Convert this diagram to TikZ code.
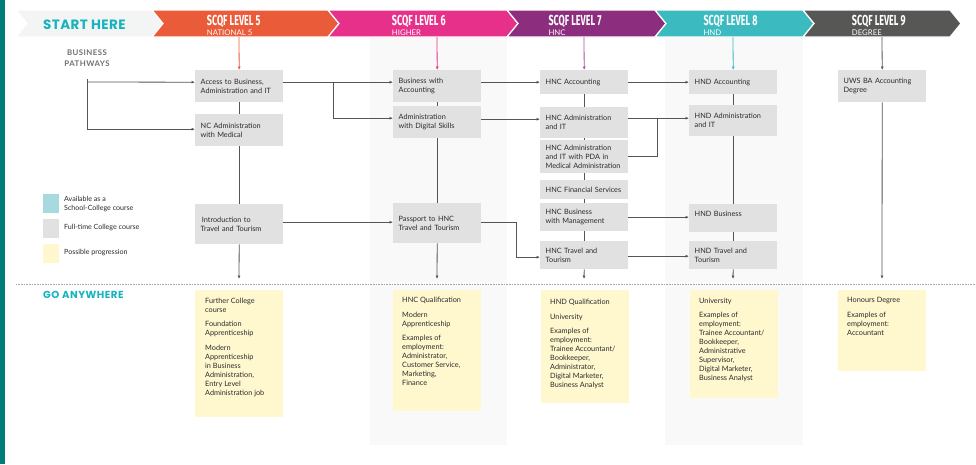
\documentclass[tikz,border=0pt]{standalone}
\usepackage{fontspec}
\setmainfont{Lato}
\newfontfamily\headfont[FakeStretch=0.62]{Fira Sans}
\newfontfamily\titlefont[LetterSpace=3]{Poppins}
\newfontfamily\gofont[LetterSpace=5]{Poppins}
\newfontfamily\pathfont[LetterSpace=6]{Lato}
\usetikzlibrary{arrows.meta,calc}
\definecolor{tealbar}{HTML}{007C7A}
\definecolor{startfill}{HTML}{F3F4F4}
\definecolor{starttxt}{HTML}{17B3BF}
\definecolor{cfive}{HTML}{EA5B3A}
\definecolor{csix}{HTML}{E6308A}
\definecolor{cseven}{HTML}{8C2E7D}
\definecolor{ceight}{HTML}{3BBAC0}
\definecolor{cnine}{HTML}{575756}
\definecolor{boxgray}{HTML}{E1E1E1}
\definecolor{yel}{HTML}{FFF8CF}
\definecolor{legteal}{HTML}{A6DADF}
\definecolor{panel}{HTML}{F9F9F9}
\definecolor{linegray}{HTML}{555555}
\definecolor{txt}{HTML}{2B2B2B}
\definecolor{pathgray}{HTML}{707070}
\newcommand\mychev[3]{%
  \filldraw[fill=#1, draw=white, line width=1.2pt, line join=miter]
    (#2,10) -- (#3,10) -- (#3+11,23.5) -- (#3,37) -- (#2,37) -- (#2+11,23.5) -- cycle;}
\begin{document}
\begin{tikzpicture}[x=1pt,y=-1pt,
  ln/.style={draw=linegray, line width=0.8pt},
  conn/.style={ln, -{Latex[length=3.5pt,width=3pt]}},
  gbox/.style={fill=boxgray, anchor=north west, text width=77pt, inner xsep=5.5pt, inner ysep=0pt, align=left, font=\fontsize{7.3}{9}\selectfont, text=txt},
  ybox/.style={fill=yel, anchor=north west, minimum width=88pt, inner sep=0pt},
  ytext/.style={anchor=north west, inner sep=0pt, align=left, font=\fontsize{7.3}{9}\selectfont, text=txt},
  head/.style={anchor=base west, inner sep=0pt, text=white, font=\headfont\bfseries\fontsize{14.5}{14.5}\selectfont},
  sub/.style={anchor=base west, inner sep=0pt, text=white, font=\fontsize{7.8}{8}\selectfont},
  legtext/.style={anchor=west, inner sep=0pt, align=left, font=\fontsize{7.1}{9}\selectfont, text=txt},
  legsq/.style={anchor=north west, minimum width=16pt, minimum height=19pt, inner sep=0pt},
]
\useasboundingbox (0,0) rectangle (976,464);
\fill[white] (0,0) rectangle (976,464);
\fill[tealbar] (0,0) rectangle (5,464);

% column panels
\fill[panel] (370,37) rectangle (507,445);
\fill[panel] (665,37) rectangle (803,445);

% banner
\mychev{startfill}{16}{152}
\mychev{cfive}{152}{328}
\mychev{csix}{328}{507}
\mychev{cseven}{507}{655}
\mychev{ceight}{655}{803}
\mychev{cnine}{803}{950}

\node[anchor=base west, inner sep=0pt, text=starttxt, font=\titlefont\bfseries\fontsize{13.5}{14}\selectfont] (start) at (43,29.3) {START HERE};
\node[head] (h5) at (206.7,25) {SCQF LEVEL 5};
\node[sub] (s5) at (206.7,35) {NATIONAL 5};
\node[head] (h6) at (391.7,25) {SCQF LEVEL 6};
\node[sub] (s6) at (391.7,35) {HIGHER};
\node[head] (h7) at (548.3,25) {SCQF LEVEL 7};
\node[sub] (s7) at (548.3,35) {HNC};
\node[head] (h8) at (703.3,25) {SCQF LEVEL 8};
\node[sub] (s8) at (703.3,35) {HND};
\node[head] (h9) at (851.7,25) {SCQF LEVEL 9};
\node[sub] (s9) at (851.7,35) {DEGREE};

% business pathways
\node[anchor=base, inner sep=0pt, text=pathgray, font=\pathfont\bfseries\fontsize{7.8}{8}\selectfont] (bp1) at (87,55.7) {BUSINESS};
\node[anchor=base, inner sep=0pt, text=pathgray, font=\pathfont\bfseries\fontsize{7.8}{8}\selectfont] (bp2) at (87,66.7) {PATHWAYS};

% legend
\node[legsq, fill=legteal] (lg1) at (43,194) {};
\node[legsq, fill=boxgray] (lg2) at (43,219) {};
\node[legsq, fill=yel] (lg3) at (43,244) {};
\node[legtext] (lt1) at (64,204) {Available as a\\School-College course};
\node[legtext] (lt2) at (64,227.5) {Full-time College course};
\node[legtext] (lt3) at (64,252.5) {Possible progression};

% level 5 boxes
\node[gbox, minimum height=32pt] (access) at (195,70) {Access to Business,\\\mbox{Administration and IT}};
\node[gbox, minimum height=32pt] (nc) at (195,114) {NC Administration\\with Medical};
\node[gbox, minimum height=40pt] (intro) at (195,204) {\,Introduction to\\Travel and Tourism};
% level 6
\node[gbox, minimum height=32pt] (bwa) at (393,70) {Business with\\Accounting};
\node[gbox, minimum height=32pt] (ads) at (393,106) {Administration\\with Digital Skills};
\node[gbox, minimum height=40pt] (pass) at (393,203) {Passport to HNC\\Travel and Tourism};
% level 7
\node[gbox, minimum height=24pt] (hncacc) at (540,70) {HNC Accounting};
\node[gbox, minimum height=31pt] (hncadm) at (540,107) {HNC Administration\\and IT};
\node[gbox, minimum height=33pt] (pda) at (540,140) {HNC Administration\\and IT with PDA in\\\mbox{Medical Administration}};
\node[gbox, minimum height=19pt] (fin) at (540,180) {\mbox{HNC Financial Services}};
\node[gbox, minimum height=28pt] (hncbus) at (540,203) {HNC Business\\with Management};
\node[gbox, minimum height=28pt] (hnctrav) at (540,241) {HNC Travel and\\Tourism};
% level 8
\node[gbox, minimum height=24pt] (hndacc) at (689,70) {HND Accounting};
\node[gbox, minimum height=31pt] (hndadm) at (689,105) {\mbox{HND Administration}\\and IT};
\node[gbox, minimum height=28pt] (hndbus) at (689,204) {HND Business\\\mbox{}};
\node[gbox, minimum height=28pt] (hndtrav) at (689,241) {HND Travel and\\Tourism};
% level 9
\node[gbox, minimum height=32pt] (uws) at (838,70) {UWS BA Accounting\\Degree};

% banner arrows
\coordinate (b5) at (239,37);
\coordinate (b6) at (437,37);
\coordinate (b7) at (584,37);
\coordinate (b8) at (733,37);
\coordinate (b9) at (882,37);
\draw[conn, draw=cfive, color=cfive] (b5) -- (access.north);
\draw[conn, draw=csix, color=csix] (b6) -- (bwa.north);
\draw[conn, draw=cseven!80!white, color=cseven!80!white] (b7) -- (hncacc.north);
\draw[conn, draw=ceight, color=ceight] (b8) -- (hndacc.north);
\draw[conn, draw=cnine, color=cnine] (b9) -- (uws.north);

% column ends
\coordinate (e5) at (239,279);
\coordinate (e6) at (437,279);
\coordinate (e7) at (584,279);
\coordinate (e8) at (733,279);
\coordinate (e9) at (882,279);

% vertical lines
\draw[ln] (access.south) -- (nc.north);
\draw[ln] (nc.south) -- (intro.north);
\draw[conn] (intro.south) -- (e5);
\draw[ln] (bwa.south) -- (ads.north);
\draw[ln] (ads.south) -- (pass.north);
\draw[conn] (pass.south) -- (e6);
\draw[ln] (hncacc.south) -- (hncadm.north);
\draw[ln] (hncadm.south) -- (pda.north);
\draw[ln] (pda.south) -- (fin.north);
\draw[ln] (fin.south) -- (hncbus.north);
\draw[ln] (hncbus.south) -- (hnctrav.north);
\draw[conn] (hnctrav.south) -- (e7);
\draw[ln] (hndacc.south) -- (hndadm.north);
\draw[ln] (hndadm.south) -- (hndbus.north);
\draw[ln] (hndbus.south) -- (hndtrav.north);
\draw[conn] (hndtrav.south) -- (e8);
\draw[conn] (uws.south) -- (e9);

% left bracket
\coordinate (lb) at (87,79);
\coordinate (lbm) at (87,82);
\draw[ln] (lb) -- (lbm);
\draw[conn] (lb) |- ([yshift=1pt]nc.west);
\draw[conn] (lbm) -- ([yshift=4pt]access.west);

% horizontal connectors
\coordinate (br) at (333,82);
\draw[conn] ([yshift=4pt]access.east) -- ([yshift=4pt]bwa.west);
\draw[conn] (br) |- ([yshift=4pt]ads.west);
\draw[conn] ([yshift=2pt]intro.east) -- ([yshift=1pt]pass.west);
\draw[conn] ([yshift=4pt]bwa.east) -- (hncacc.west);
\draw[conn] ([yshift=3pt]ads.east) -- ([yshift=3.5pt]hncadm.west);
\draw[conn] ([yshift=1pt]pass.east) -- ++(35,0) |- ([yshift=-2pt]hnctrav.west);
\draw[conn] (hncacc.east) -- (hndacc.west);
\draw[conn] ([yshift=4.5pt]hncadm.east) -- ([yshift=2.5pt]hndadm.west);
\draw[ln] ([yshift=0.5pt]pda.east) -| ($(hncadm.east)+(29,-4.5)$);
\draw[conn] (hncbus.east) -- ([yshift=1pt]hndbus.west);
\draw[conn] ([yshift=-1pt]hnctrav.east) -- ([yshift=-1pt]hndtrav.west);

% dotted separator
\coordinate (dl) at (16,284);
\coordinate (dr) at (976,284);
\draw[draw=black!35, line width=0.7pt, dash pattern=on 0.8pt off 0.8pt] (dl) -- (dr);

\node[anchor=base west, inner sep=0pt, text=starttxt, font=\gofont\bfseries\fontsize{10.2}{11}\selectfont] (go) at (43,298.3) {GO ANYWHERE};

% yellow boxes
\node[ybox, minimum height=127pt] (y5) at (195,290) {};
\node[ybox, minimum height=121pt] (y6) at (393,290) {};
\node[ybox, minimum height=113pt] (y7) at (541,290) {};
\node[ybox, minimum height=108pt] (y8) at (690,290) {};
\node[ybox, minimum height=81pt] (y9) at (838,290) {};

\node[ytext] (t5) at (205,297.5) {Further College\\course\\[5.5pt]Foundation\\Apprenticeship\\[5.5pt]Modern\\Apprenticeship\\in Business\\Administration,\\Entry Level\\Administration job};
\node[ytext] (t6) at (402,297) {HNC Qualification\\[5.5pt]Modern\\Apprenticeship\\[5.5pt]Examples of\\employment:\\Administrator,\\Customer Service,\\Marketing,\\Finance};
\node[ytext] (t7) at (550,299) {HND Qualification\\[6pt]University\\[5pt]Examples of\\employment:\\Trainee Accountant/\\Bookkeeper,\\Administrator,\\Digital Marketer,\\Business Analyst};
\node[ytext] (t8) at (699,297.5) {University\\[5.5pt]Examples of\\employment:\\Trainee Accountant/\\Bookkeeper,\\Administrative\\Supervisor,\\Digital Marketer,\\Business Analyst};
\node[ytext] (t9) at (847,297.5) {Honours Degree\\[5.5pt]Examples of\\employment:\\Accountant};
\end{tikzpicture}
\end{document}
